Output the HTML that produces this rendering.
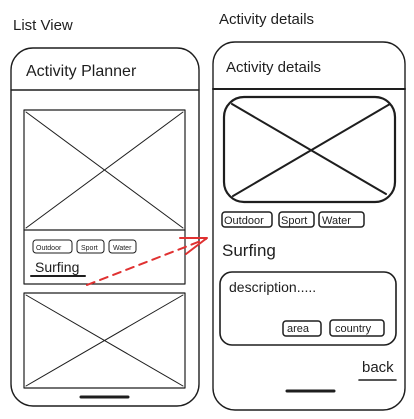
<!DOCTYPE html>
<html><head><style>
html,body{margin:0;padding:0;background:#fff;width:414px;height:419px;overflow:hidden}
svg{display:block}
text{font-family:"Liberation Sans","DejaVu Sans",sans-serif;fill:#1e1e1e}
</style></head><body>
<svg width="414" height="419" viewBox="0 0 414 419" xmlns="http://www.w3.org/2000/svg" fill="none" stroke="#1e1e1e" stroke-linecap="round" stroke-linejoin="round">
<text x="13" y="30" font-size="15" stroke="none">List View</text>
<text x="219" y="24" font-size="15" stroke="none">Activity details</text>

<!-- left phone -->
<rect x="11" y="48" width="188" height="358" rx="22" stroke-width="1.4"/>
<line x1="11" y1="90" x2="199" y2="90" stroke-width="1.4"/>
<text x="26" y="76" font-size="16" stroke="none">Activity Planner</text>
<rect x="24" y="110" width="161" height="174" stroke-width="1.2"/>
<line x1="24" y1="230" x2="185" y2="230" stroke-width="1.2"/>
<line x1="26" y1="112" x2="183" y2="228" stroke-width="1"/>
<line x1="183" y1="112" x2="26" y2="228" stroke-width="1"/>
<rect x="33" y="240" width="39" height="13" rx="3" stroke-width="1"/>
<rect x="77" y="240" width="27" height="13" rx="3" stroke-width="1"/>
<rect x="109" y="240" width="27" height="13" rx="3" stroke-width="1"/>
<text x="36" y="250" font-size="7" stroke="none">Outdoor</text>
<text x="81" y="250" font-size="7" stroke="none">Sport</text>
<text x="113" y="250" font-size="7" stroke="none">Water</text>
<text x="35" y="272" font-size="14" stroke="none">Surfing</text>
<line x1="31" y1="276" x2="85" y2="276" stroke-width="2"/>
<rect x="24" y="293" width="161" height="95" stroke-width="1.2"/>
<line x1="26" y1="295" x2="183" y2="386" stroke-width="1"/>
<line x1="183" y1="295" x2="26" y2="386" stroke-width="1"/>
<line x1="24" y1="388" x2="185" y2="388" stroke-width="1"/>
<line x1="81" y1="397" x2="128" y2="397" stroke-width="3"/>

<!-- arrow -->
<line x1="87" y1="285" x2="206" y2="239" stroke="#e03131" stroke-width="2" stroke-dasharray="8 6"/>
<polyline points="180,238 207,238 186,254" stroke="#e03131" stroke-width="2"/>

<!-- right phone -->
<rect x="213" y="42" width="192" height="368" rx="22" stroke-width="1.4"/>
<line x1="213" y1="89" x2="405" y2="89" stroke-width="2"/>
<text x="226" y="72" font-size="15" stroke="none">Activity details</text>
<rect x="224" y="97" width="171" height="105" rx="20" stroke-width="2.2"/>
<line x1="232" y1="104" x2="386" y2="194" stroke-width="2"/>
<line x1="390" y1="104" x2="233" y2="196" stroke-width="2"/>
<rect x="222" y="212" width="50" height="15" rx="3" stroke-width="1.5"/>
<rect x="279" y="212" width="35" height="15" rx="3" stroke-width="1.5"/>
<rect x="319" y="212" width="45" height="15" rx="3" stroke-width="1.5"/>
<text x="224" y="224" font-size="11" stroke="none">Outdoor</text>
<text x="281" y="224" font-size="11" stroke="none">Sport</text>
<text x="322" y="224" font-size="11" stroke="none">Water</text>
<text x="222" y="256" font-size="17" stroke="none">Surfing</text>
<rect x="220" y="272" width="176" height="73" rx="12" stroke-width="1.6"/>
<text x="229" y="292" font-size="14" stroke="none">description.....</text>
<rect x="283" y="321" width="38" height="15" rx="3" stroke-width="1.5"/>
<rect x="330" y="320" width="54" height="16" rx="3" stroke-width="1.5"/>
<text x="287" y="332" font-size="11" stroke="none">area</text>
<text x="335" y="332" font-size="11" stroke="none">country</text>
<text x="362" y="372" font-size="15" stroke="none">back</text>
<line x1="359" y1="380" x2="396" y2="380" stroke-width="1.6"/>
<line x1="287" y1="391" x2="334" y2="391" stroke-width="3"/>
</svg>
</body></html>
